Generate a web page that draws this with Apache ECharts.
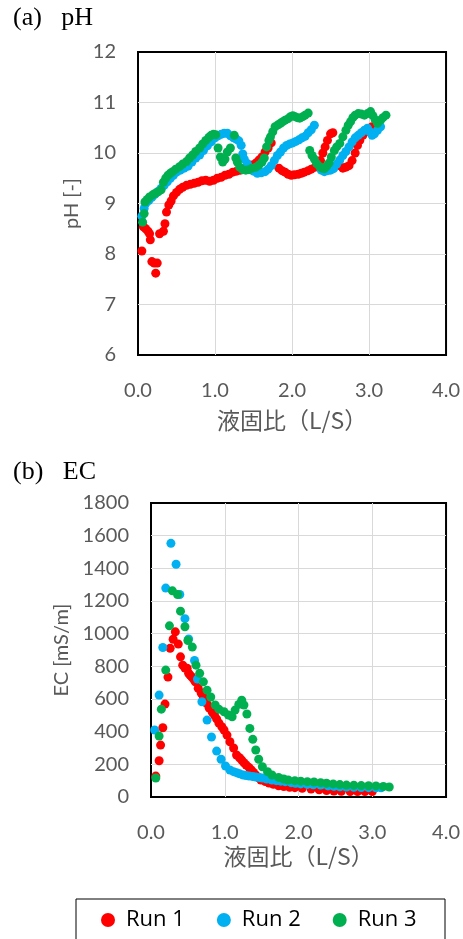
<!DOCTYPE html>
<html><head><meta charset="utf-8">
<script src="https://cdn.jsdelivr.net/npm/echarts@6/dist/echarts.min.js"></script>
<style>html,body{margin:0;padding:0;background:#fff}#c{width:463px;height:939px}</style>
</head><body><div id="c"></div><script>
// ---- pH data (x = L/S, y = pH) ----
var run1PhX = [0.05,0.07,0.10,0.13,0.15,0.16,0.18,0.21,0.23,0.25,0.28,0.33,0.35,0.37,0.40,0.43,0.46,0.50,0.54,0.58,0.63,0.68,0.73,0.78,0.83,0.88,0.93,0.98,1.03,1.08,1.13,1.18,1.23,1.28,1.33,1.38,1.43,1.48,1.53,1.57,1.61,1.65,1.69,1.73,1.83,1.87,1.91,1.95,1.99,2.03,2.08,2.12,2.16,2.21,2.25,2.30,2.34,2.37,2.40,2.43,2.46,2.50,2.53,2.62,2.66,2.70,2.74,2.78,2.82,2.85,2.88,2.92,2.96,3.00,3.04];
var run1PhY = [8.06,8.54,8.50,8.45,8.40,8.28,7.85,7.82,7.62,7.82,8.40,8.45,8.60,8.83,8.97,9.05,9.15,9.22,9.28,9.32,9.36,9.38,9.40,9.42,9.45,9.46,9.44,9.46,9.50,9.52,9.56,9.58,9.62,9.64,9.66,9.70,9.72,9.76,9.80,9.86,9.92,10.02,10.10,10.20,9.70,9.65,9.62,9.58,9.56,9.57,9.58,9.60,9.62,9.65,9.68,9.72,9.78,9.85,10.00,10.12,10.25,10.38,10.40,9.75,9.70,9.72,9.75,9.85,10.00,10.15,10.25,10.35,10.42,10.48,10.52];
var run2PhX = [0.05,0.08,0.10,0.14,0.18,0.22,0.26,0.30,0.34,0.38,0.42,0.46,0.50,0.55,0.60,0.65,0.70,0.75,0.80,0.85,0.90,0.95,1.00,1.04,1.08,1.12,1.16,1.20,1.24,1.28,1.31,1.34,1.36,1.38,1.42,1.46,1.50,1.55,1.60,1.65,1.69,1.73,1.77,1.81,1.85,1.89,1.93,1.97,2.01,2.05,2.09,2.13,2.17,2.21,2.25,2.29,2.38,2.42,2.46,2.50,2.54,2.58,2.62,2.66,2.70,2.74,2.78,2.82,2.86,2.90,2.94,2.98,3.01,3.04,3.07,3.11,3.15];
var run2PhY = [8.75,8.90,9.00,9.06,9.12,9.18,9.24,9.30,9.36,9.43,9.50,9.56,9.62,9.66,9.70,9.74,9.82,9.90,9.96,10.05,10.14,10.22,10.30,10.34,10.37,10.39,10.39,10.34,10.30,10.27,10.24,10.15,9.98,9.88,9.79,9.70,9.64,9.60,9.61,9.63,9.68,9.75,9.85,9.95,10.02,10.10,10.15,10.18,10.20,10.23,10.26,10.30,10.33,10.40,10.46,10.55,9.66,9.63,9.65,9.66,9.69,9.78,9.86,9.95,10.03,10.12,10.22,10.30,10.35,10.40,10.45,10.49,10.42,10.35,10.38,10.45,10.52];
var run3PhX = [0.06,0.08,0.09,0.12,0.15,0.19,0.22,0.26,0.30,0.33,0.36,0.39,0.42,0.45,0.49,0.54,0.58,0.63,0.67,0.71,0.75,0.80,0.84,0.88,0.92,0.95,0.98,1.01,1.04,1.07,1.10,1.13,1.16,1.20,1.25,1.27,1.29,1.32,1.36,1.40,1.44,1.48,1.53,1.57,1.61,1.64,1.67,1.70,1.72,1.75,1.78,1.82,1.85,1.88,1.91,1.95,1.98,2.01,2.04,2.07,2.10,2.14,2.17,2.21,2.23,2.26,2.29,2.32,2.36,2.39,2.42,2.45,2.48,2.51,2.55,2.58,2.62,2.66,2.70,2.73,2.76,2.79,2.82,2.86,2.90,2.94,2.98,3.02,3.05,3.08,3.11,3.15,3.18,3.22];
var run3PhY = [8.63,8.80,9.03,9.08,9.13,9.17,9.20,9.23,9.27,9.42,9.50,9.56,9.60,9.63,9.68,9.73,9.78,9.83,9.90,9.96,10.03,10.10,10.18,10.25,10.31,10.35,10.37,10.36,10.10,9.92,9.82,9.88,10.02,10.10,10.35,9.90,9.82,9.72,9.67,9.66,9.67,9.70,9.72,9.76,9.82,9.90,10.12,10.25,10.32,10.42,10.52,10.56,10.59,10.62,10.65,10.68,10.72,10.74,10.72,10.70,10.69,10.72,10.75,10.79,10.05,9.95,9.88,9.79,9.73,9.70,9.69,9.74,9.80,9.92,10.05,10.12,10.19,10.32,10.45,10.55,10.62,10.70,10.75,10.78,10.77,10.75,10.78,10.82,10.74,10.66,10.59,10.65,10.70,10.75];
// ---- EC data (x = L/S, y = EC mS/m) ----
var run1EcX = [0.065,0.11,0.13,0.16,0.19,0.23,0.26,0.30,0.33,0.37,0.40,0.43,0.46,0.49,0.51,0.53,0.55,0.58,0.60,0.64,0.68,0.71,0.73,0.76,0.79,0.83,0.86,0.89,0.92,0.96,0.99,1.03,1.07,1.12,1.16,1.20,1.23,1.26,1.29,1.33,1.36,1.39,1.42,1.46,1.49,1.55,1.60,1.66,1.73,1.80,1.88,1.95,2.05,2.17,2.28,2.38,2.48,2.58,2.70,2.80,2.90,3.00];
var run1EcY = [128,222,318,424,569,734,911,966,1011,936,858,807,790,789,758,746,736,720,705,666,636,612,593,570,544,520,502,478,453,430,410,379,338,300,257,240,226,210,196,180,165,150,135,118,104,95,86,78,69,64,60,57,53,49,44,40,37,35,34,34,33,34];
var run2EcX = [0.05,0.11,0.16,0.20,0.27,0.34,0.39,0.46,0.51,0.59,0.63,0.69,0.76,0.82,0.89,0.95,1.01,1.07,1.12,1.16,1.20,1.25,1.29,1.33,1.38,1.42,1.47,1.51,1.57,1.64,1.70,1.76,1.82,1.90,1.96,2.03,2.12,2.20,2.30,2.40,2.48,2.56,2.65,2.75,2.85,2.95,3.05,3.12];
var run2EcY = [410,624,915,1279,1553,1425,1240,1092,967,836,722,583,471,367,281,231,190,165,155,149,142,135,131,128,125,122,119,116,110,104,100,97,94,88,84,80,77,75,73,68,65,63,61,60,58,57,56,56];
var run3EcX = [0.065,0.11,0.14,0.20,0.25,0.29,0.36,0.40,0.46,0.50,0.56,0.61,0.66,0.71,0.76,0.81,0.87,0.92,0.99,1.05,1.10,1.14,1.19,1.23,1.26,1.30,1.34,1.38,1.42,1.46,1.51,1.58,1.64,1.73,1.80,1.86,1.95,2.03,2.12,2.21,2.30,2.38,2.47,2.56,2.65,2.75,2.85,2.95,3.05,3.15,3.23];
var run3EcY = [116,373,538,777,1048,1262,1240,1138,1042,958,918,807,757,705,654,612,563,538,522,502,491,532,567,593,563,508,420,353,288,231,185,155,135,120,110,104,100,97,94,92,88,84,80,76,73,72,70,69,68,64,61];
// ---- labels ----
var seriesNames = ['Run 1','Run 2','Run 3'];
var seriesColors = ['#FF0000','#00B0F0','#00B050'];
var xAxisTitle = '液固比（L/S）';
var phAxisTitle = 'pH [-]';
var ecAxisTitle = 'EC [mS/m]';
var panelA = '(a)\u2002 pH';
var panelB = '(b)\u2002 EC';

function zip(a,b){return a.map(function(v,i){return [v,b[i]];});}
var labelFont = {color:'#595959',fontSize:20,fontFamily:'Lato'};
function xAx(gi,gap){
  return {type:'value',gridIndex:gi,min:0,max:4,interval:1,
    axisLine:{show:false},axisTick:{show:false},
    splitLine:{show:true,showMinLine:false,showMaxLine:false,lineStyle:{color:'#d9d9d9',width:1}},
    axisLabel:Object.assign({formatter:function(v){return v.toFixed(1);},margin:26},labelFont),
    name:xAxisTitle,nameLocation:'middle',nameGap:gap,
    nameTextStyle:{color:'#595959',fontSize:23,fontFamily:'Noto Sans CJK JP'}};
}
function yAx(gi,min,max,iv,name,gap){
  return {type:'value',gridIndex:gi,min:min,max:max,interval:iv,
    axisLine:{show:false},axisTick:{show:false},
    splitLine:{show:true,showMinLine:false,showMaxLine:false,lineStyle:{color:'#d9d9d9',width:1}},
    axisLabel:Object.assign({margin:22,formatter:function(v){return String(v);}},labelFont),
    name:name,nameLocation:'middle',nameGap:gap,
    nameTextStyle:{color:'#595959',fontSize:20,fontFamily:'Lato'}};
}
var phData = [zip(run1PhX,run1PhY),zip(run2PhX,run2PhY),zip(run3PhX,run3PhY)];
var ecData = [zip(run1EcX,run1EcY),zip(run2EcX,run2EcY),zip(run3EcX,run3EcY)];
var series = [];
for (var i=0;i<3;i++){
  series.push({type:'scatter',name:seriesNames[i],xAxisIndex:0,yAxisIndex:0,data:phData[i],symbolSize:9,itemStyle:{color:seriesColors[i],opacity:1},z:2+i});
}
for (var j=0;j<3;j++){
  series.push({type:'scatter',name:seriesNames[j],xAxisIndex:1,yAxisIndex:1,data:ecData[j],symbolSize:9,itemStyle:{color:seriesColors[j],opacity:1},z:2+j});
}
var chart = echarts.init(document.getElementById('c'),null,{renderer:'canvas'});
chart.setOption({
  animation:false,
  backgroundColor:'#fff',
  grid:[
    {left:138,top:52,width:311,height:303,show:true,borderColor:'#000',borderWidth:2,backgroundColor:'transparent'},
    {left:151,top:503,width:306,height:294,show:true,borderColor:'#000',borderWidth:2,backgroundColor:'transparent'}
  ],
  xAxis:[xAx(0,54),xAx(1,48)],
  yAxis:[yAx(0,6,12,1,phAxisTitle,49),yAx(1,0,1800,200,ecAxisTitle,73)],
  legend:{data:seriesNames,left:101,top:909,padding:0,itemWidth:26,itemHeight:14,itemGap:32,icon:'circle',
    textStyle:{fontSize:22,fontFamily:'Open Sans',color:'#000'}},
  graphic:[
    {type:'text',left:13,top:5,style:{text:panelA,font:'26px "Liberation Serif"',fill:'#000'}},
    {type:'text',left:13,top:459,style:{text:panelB,font:'26px "Liberation Serif"',fill:'#000'}},
    {type:'rect',shape:{x:76,y:899,width:369,height:60},style:{fill:'none',stroke:'#000',lineWidth:1}}
  ],
  series:series
});
</script></body></html>
